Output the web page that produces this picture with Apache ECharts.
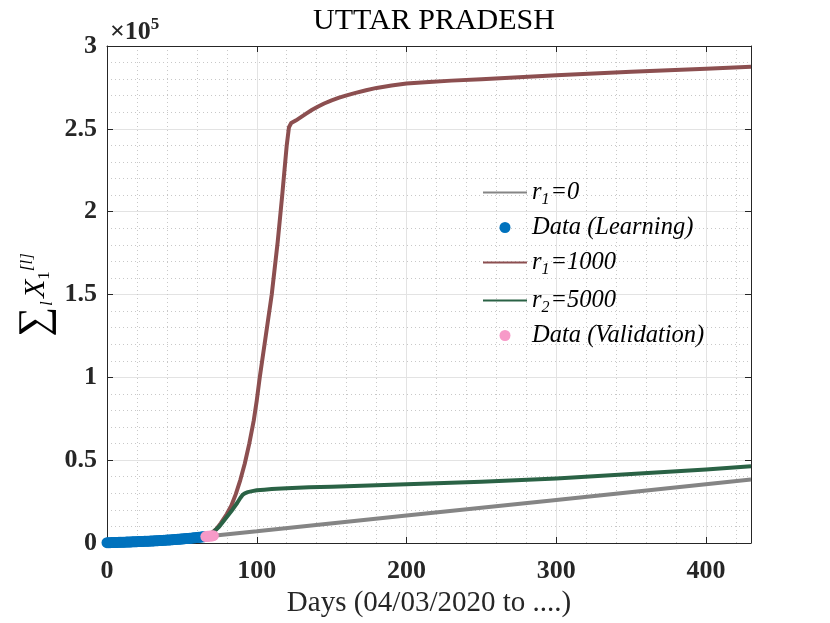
<!DOCTYPE html>
<html>
<head>
<meta charset="utf-8">
<title>UTTAR PRADESH</title>
<script src="https://cdn.jsdelivr.net/npm/echarts@6/dist/echarts.min.js"></script>
<style>
  html, body { margin: 0; padding: 0; background: #ffffff; }
  #main { width: 830px; height: 623px; }
</style>
</head>
<body>
<div id="main"></div>
<script>
// learning data (days 0..65)
var learnDays = [0,1,2,3,4,5,6,7,8,9,10,11,12,13,14,15,16,17,18,19,20,21,22,23,24,25,26,27,28,29,30,31,32,
  33,34,35,36,37,38,39,40,41,42,43,44,45,46,47,48,49,50,51,52,53,54,55,56,57,58,59,60,61,62,63,64,65];
var learnVals = [170,190,210,230,260,290,320,350,380,410,440,470,500,530,560,600,640,680,720,760,800,840,880,
  920,960,1000,1040,1080,1120,1160,1200,1250,1300,1350,1400,1450,1500,1560,1620,1680,1740,1800,1860,1920,
  1990,2060,2130,2200,2270,2340,2420,2500,2580,2660,2750,2840,2930,3020,3110,3210,3310,3410,3510,3610,3710,3810];

// validation data
var validDays = [66,67,68,69,70,71];
var validVals = [3900,4000,4100,4200,4300,4400];

// r1 = 0
var r0Days = [66,100,200,300,430];
var r0Vals = [3900,7100,16600,26000,38300];

// r1 = 1000
var r1Days = [66,70,73,76,80,83,86,89,92,95,98,100,102,106,110,114,117,120,121.5,123,126,129,133,137,141,145,
  150,155,160,166,173,180,190,200,215,230,250,300,350,400,430];
var r1Vals = [3900,6000,8500,12000,17500,22500,29500,38000,48000,60000,74000,86000,100000,125000,150000,182000,
  210000,240000,251000,253500,255000,256800,259200,261500,263500,265300,267200,268800,270200,271700,273300,
  274700,276200,277300,278300,279100,280000,282300,284500,286300,287500];

// r2 = 5000
var r2Days = [66,69,72,75,78,81,84,87,89,90.5,92,94,97,100,105,110,120,135,150,200,250,300,350,400,430];
var r2Vals = [3900,5400,7400,10000,13400,16900,20400,24300,27200,29000,30000,30700,31300,31800,32200,32600,
  33100,33600,34000,35400,37000,39000,41600,44300,46300];

var xTicks = [0,100,200,300,400];
var yTickLabels = ['0','0.5','1','1.5','2','2.5','3'];

function pairs(xs, ys) {
  var out = [];
  for (var i = 0; i < xs.length; i++) {
    out.push([xs[i], ys[i]]);
  }
  return out;
}

var serif = '"Liberation Serif", "Times New Roman", serif';
var axisColor = '#262626';

var myChart = echarts.init(document.getElementById('main'));

var option = {
  backgroundColor: '#FFFFFF',
  animation: false,
  title: {
    text: 'UTTAR PRADESH',
    left: 429,
    top: 1,
    textAlign: 'center',
    textStyle: {
      fontFamily: serif,
      fontSize: 30,
      fontWeight: 'normal',
      color: '#000'
    }
  },
  grid: {
    left: 107,
    right: 79,
    top: 46,
    bottom: 80,
    containLabel: false
  },
  legend: {
    orient: 'vertical',
    left: 477,
    top: 172,
    itemWidth: 44,
    itemHeight: 11,
    itemGap: 7,
    data: [
      { name: 'r1=0', itemStyle: { opacity: 0 } },
      { name: 'Data (Learning)' },
      { name: 'r1=1000', itemStyle: { opacity: 0 } },
      { name: 'r2=5000', itemStyle: { opacity: 0 } },
      { name: 'Data (Validation)' }
    ],
    formatter: function (name) {
      if (name.charAt(0) === 'r') {
        return '{t|r}{s|' + name.charAt(1) + '}{t|' + name.slice(2) + '}';
      }
      return '{t|' + name + '}';
    },
    textStyle: {
      rich: {
        t: {
          fontFamily: serif,
          fontStyle: 'italic',
          fontSize: 24.5,
          lineHeight: 32,
          color: '#000'
        },
        s: {
          fontFamily: serif,
          fontStyle: 'italic',
          fontSize: 16,
          lineHeight: 16,
          padding: [15, 1, 0, 0],
          color: '#000'
        }
      }
    }
  },
  graphic: [
    {
      type: 'text',
      x: 36,
      y: 295,
      rotation: Math.PI / 2,
      style: {
        text: '{sum|\u2211}{sl|l} {x|X}{one|1}{sup|[l]}',
        align: 'center',
        verticalAlign: 'middle',
        fill: '#000',
        rich: {
          sum: { fontFamily: serif, fontSize: 42, lineHeight: 48 },
          sl: { fontFamily: serif, fontStyle: 'italic', fontSize: 16, lineHeight: 16, padding: [24, 0, 0, 1] },
          x: { fontFamily: serif, fontStyle: 'italic', fontSize: 30, lineHeight: 48 },
          one: { fontFamily: serif, fontSize: 17, lineHeight: 17, padding: [17, 0, 0, 0] },
          sup: { fontFamily: serif, fontStyle: 'italic', fontSize: 17, lineHeight: 17, padding: [0, 0, 17, 0] }
        }
      }
    },
    {
      type: 'text',
      x: 110,
      y: 32,
      style: {
        text: '{a|\u00d710}{b|5}',
        align: 'left',
        verticalAlign: 'middle',
        fill: '#262626',
        rich: {
          a: { fontFamily: serif, fontWeight: 'bold', fontSize: 26, lineHeight: 30 },
          b: { fontFamily: serif, fontWeight: 'bold', fontSize: 17, lineHeight: 17, padding: [0, 0, 14, 0] }
        }
      }
    }
  ],
  xAxis: [
    {
      // minor dotted grid (every 20 days)
      type: 'value',
      position: 'bottom',
      min: 0,
      max: 430,
      interval: 20,
      axisLine: { show: false },
      axisTick: { show: false },
      axisLabel: { show: false },
      splitLine: { show: true, lineStyle: { color: '#c8c8c8', width: 1, type: [1, 3] } }
    },
    {
      type: 'value',
      position: 'bottom',
      min: 0,
      max: 430,
      interval: 100,
      name: 'Days (04/03/2020 to ....)',
      nameLocation: 'middle',
      nameGap: 46,
      nameTextStyle: { fontFamily: serif, fontSize: 29, color: '#262626' },
      axisLine: { show: true, onZero: false, lineStyle: { color: axisColor, width: 1 } },
      axisTick: { show: true, inside: true, length: 6, lineStyle: { color: axisColor } },
      axisLabel: {
        show: true,
        margin: 15,
        showMaxLabel: false,
        fontFamily: serif,
        fontWeight: 'bold',
        fontSize: 26,
        color: '#262626',
        formatter: function (v) {
          return xTicks.indexOf(v) >= 0 ? String(v) : '';
        }
      },
      splitLine: { show: true, lineStyle: { color: '#e3e3e3', width: 1, type: 'solid' } }
    },
    {
      type: 'value',
      position: 'top',
      min: 0,
      max: 430,
      interval: 100,
      axisLine: { show: true, onZero: false, lineStyle: { color: axisColor, width: 1 } },
      axisTick: { show: true, inside: true, length: 6, lineStyle: { color: axisColor } },
      axisLabel: { show: false },
      splitLine: { show: false }
    }
  ],
  yAxis: [
    {
      type: 'value',
      position: 'left',
      min: 0,
      max: 300000,
      interval: 50000,
      axisLine: { show: true, onZero: false, lineStyle: { color: axisColor, width: 1 } },
      axisTick: { show: true, inside: true, length: 6, lineStyle: { color: axisColor } },
      axisLabel: {
        margin: 10,
        fontFamily: serif,
        fontWeight: 'bold',
        fontSize: 26,
        color: '#262626',
        formatter: function (v) {
          return yTickLabels[Math.round(v / 50000)];
        }
      },
      splitLine: { show: true, lineStyle: { color: '#e3e3e3', width: 1 } },
      minorTick: { show: false, splitNumber: 5 },
      minorSplitLine: { show: true, lineStyle: { color: '#c8c8c8', width: 1, type: [1, 3] } }
    },
    {
      type: 'value',
      position: 'right',
      min: 0,
      max: 300000,
      interval: 50000,
      axisLine: { show: true, onZero: false, lineStyle: { color: axisColor, width: 1 } },
      axisTick: { show: true, inside: true, length: 6, lineStyle: { color: axisColor } },
      axisLabel: { show: false },
      splitLine: { show: false }
    }
  ],
  series: [
    {
      name: 'r1=0',
      type: 'line',
      xAxisIndex: 1,
      yAxisIndex: 0,
      showSymbol: false,
      symbol: 'none',
      lineStyle: { color: '#858585', width: 4 },
      itemStyle: { color: '#858585' },
      z: 2,
      data: pairs(r0Days, r0Vals)
    },
    {
      name: 'Data (Learning)',
      type: 'scatter',
      xAxisIndex: 1,
      yAxisIndex: 0,
      symbol: 'circle',
      symbolSize: 11,
      itemStyle: { color: '#0072BD', opacity: 1 },
      z: 5,
      data: pairs(learnDays, learnVals)
    },
    {
      name: 'r1=1000',
      type: 'line',
      xAxisIndex: 1,
      yAxisIndex: 0,
      showSymbol: false,
      symbol: 'none',
      lineStyle: { color: '#8C4F50', width: 4, join: 'round' },
      itemStyle: { color: '#8C4F50' },
      z: 3,
      data: pairs(r1Days, r1Vals)
    },
    {
      name: 'r2=5000',
      type: 'line',
      xAxisIndex: 1,
      yAxisIndex: 0,
      showSymbol: false,
      symbol: 'none',
      lineStyle: { color: '#2A6245', width: 4, join: 'round' },
      itemStyle: { color: '#2A6245' },
      z: 3,
      data: pairs(r2Days, r2Vals)
    },
    {
      name: 'Data (Validation)',
      type: 'scatter',
      xAxisIndex: 1,
      yAxisIndex: 0,
      symbol: 'circle',
      symbolSize: 11,
      itemStyle: { color: '#F79AC8', opacity: 1 },
      z: 6,
      data: pairs(validDays, validVals)
    }
  ]
};

myChart.setOption(option);
</script>
</body>
</html>
